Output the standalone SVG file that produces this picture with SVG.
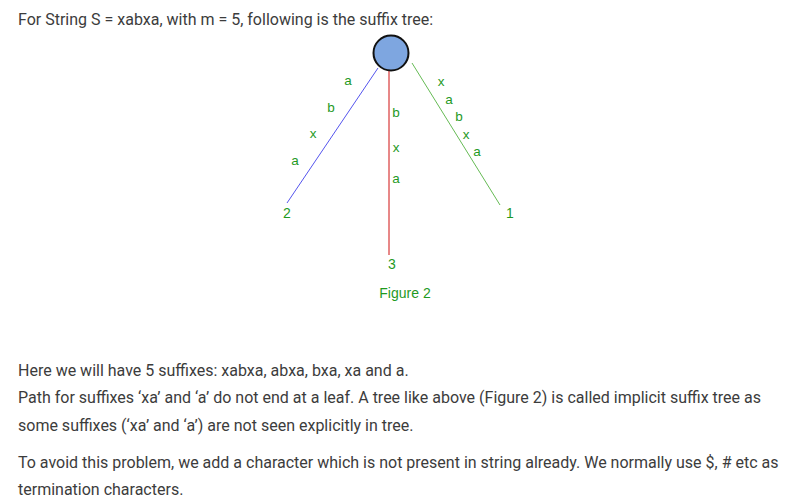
<svg xmlns="http://www.w3.org/2000/svg" width="804" height="502" viewBox="0 0 804 502">
<style>
.p{font-family:Roboto,"Liberation Sans",sans-serif;font-size:16px;fill:#3c3c3c}
.l{font-family:"Liberation Sans",Arial,sans-serif;font-size:13.5px;fill:#1f9a1f;text-anchor:middle}
.n{font-family:"Liberation Sans",Arial,sans-serif;font-size:14px;fill:#1f9a1f;text-anchor:middle}
</style>
<rect width="804" height="502" fill="#ffffff"/>
<text class="p" x="18" y="25">For String S = xabxa, with m = 5, following is the suffix tree:</text>
<g id="connectors">
<line x1="378" y1="68" x2="287" y2="203" stroke="#5555ee" stroke-width="1"/>
<line x1="389" y1="71" x2="389" y2="255" stroke="#d01010" stroke-width="1"/>
<line x1="412" y1="63" x2="500" y2="205" stroke="#66bb55" stroke-width="1"/>
</g>
<g id="edge-labels">
<text class="l" x="348" y="85">a</text>
<text class="l" x="331" y="112">b</text>
<text class="l" x="313" y="138">x</text>
<text class="l" x="295" y="165">a</text>
<text class="l" x="396" y="117">b</text>
<text class="l" x="396" y="152">x</text>
<text class="l" x="396" y="183">a</text>
<text class="l" x="441" y="86">x</text>
<text class="l" x="449" y="104">a</text>
<text class="l" x="459" y="121">b</text>
<text class="l" x="466" y="139">x</text>
<text class="l" x="477" y="156">a</text>
</g>
<g id="root"><circle cx="391" cy="53" r="17.5" fill="#7ea6e0" stroke="#111" stroke-width="2"/></g>
<g id="leaf-2"><text class="n" x="287" y="218">2</text></g>
<g id="leaf-1"><text class="n" x="510" y="218">1</text></g>
<g id="leaf-3"><text class="n" x="392" y="269">3</text></g>
<text class="n" x="405" y="298" font-size="16.5">Figure 2</text>
<text class="p" x="18" y="376">Here we will have 5 suffixes: xabxa, abxa, bxa, xa and a.</text>
<text class="p" x="18" y="403">Path for suffixes ‘xa’ and ‘a’ do not end at a leaf. A tree like above (Figure 2) is called implicit suffix tree as</text>
<text class="p" x="18" y="431">some suffixes (‘xa’ and ‘a’) are not seen explicitly in tree.</text>
<text class="p" x="18" y="468">To avoid this problem, we add a character which is not present in string already. We normally use $, # etc as</text>
<text class="p" x="18" y="495">termination characters.</text>
</svg>
